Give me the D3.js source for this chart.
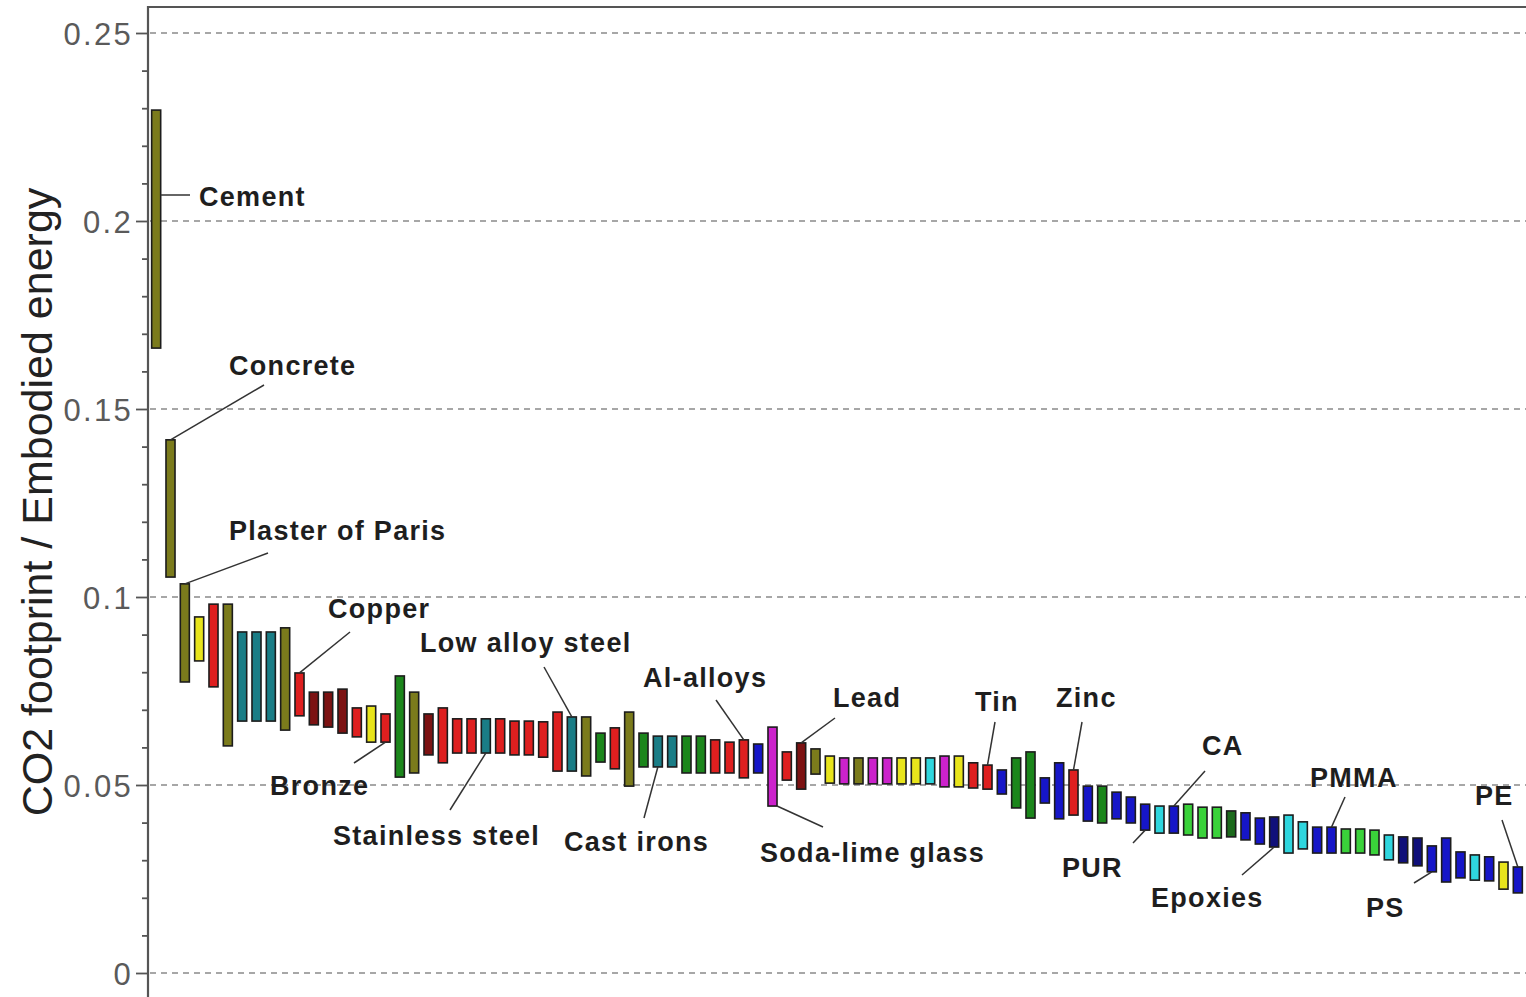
<!DOCTYPE html>
<html><head><meta charset="utf-8">
<script src="https://cdn.jsdelivr.net/npm/d3@7"></script>
<style>body{margin:0;background:#fff;} svg{display:block;}</style>
</head><body>
<svg id="c" width="1526" height="997"></svg>
<script>
// ---------------- DATA ----------------
const categories = [
 "Cement","Concrete","Plaster of Paris","m04","m05","m06","m07","m08","m09","m10",
 "Copper","m12","m13","m14","m15","m16","Bronze","m18","m19","m20",
 "m21","m22","m23","Stainless steel","m25","m26","m27","m28","m29","Low alloy steel",
 "m31","m32","m33","m34","m35","Cast irons","m37","m38","m39","m40",
 "m41","Al-alloys","m43","Soda-lime glass","m45","Lead","m47","m48","m49","m50",
 "m51","m52","m53","m54","m55","m56","m57","m58","Tin","m60",
 "m61","m62","m63","m64","Zinc","m66","m67","m68","m69","PUR",
 "m71","CA","m73","m74","m75","m76","m77","m78","Epoxies","m80",
 "m81","m82","PMMA","m84","m85","m86","m87","m88","m89","PS",
 "m91","m92","m93","m94","m95","PE"
];
const highValues = [
 0.2295,0.1418,0.1035,0.0947,0.0981,0.0981,0.0907,0.0907,0.0907,0.0918,
 0.0798,0.0747,0.0747,0.0755,0.0705,0.0710,0.0689,0.0790,0.0747,0.0689,
 0.0705,0.0676,0.0676,0.0676,0.0676,0.0670,0.0670,0.0668,0.0694,0.0681,
 0.0681,0.0638,0.0652,0.0694,0.0638,0.0630,0.0630,0.0630,0.0630,0.0620,
 0.0614,0.0620,0.0609,0.0654,0.0588,0.0612,0.0596,0.0577,0.0572,0.0572,
 0.0572,0.0572,0.0572,0.0572,0.0572,0.0577,0.0577,0.0559,0.0553,0.0540,
 0.0572,0.0588,0.0519,0.0559,0.0540,0.0497,0.0497,0.0481,0.0468,0.0449,
 0.0444,0.0444,0.0449,0.0441,0.0441,0.0431,0.0426,0.0412,0.0415,0.0420,
 0.0402,0.0388,0.0388,0.0383,0.0383,0.0380,0.0367,0.0362,0.0359,0.0338,
 0.0359,0.0322,0.0314,0.0309,0.0295,0.0282
];
const lowValues = [
 0.1662,0.1053,0.0774,0.0830,0.0761,0.0604,0.0670,0.0670,0.0670,0.0646,
 0.0684,0.0660,0.0654,0.0638,0.0628,0.0614,0.0614,0.0521,0.0532,0.0580,
 0.0559,0.0585,0.0585,0.0585,0.0585,0.0580,0.0580,0.0574,0.0537,0.0537,
 0.0524,0.0561,0.0543,0.0497,0.0548,0.0548,0.0548,0.0532,0.0532,0.0532,
 0.0532,0.0519,0.0532,0.0444,0.0513,0.0489,0.0529,0.0505,0.0503,0.0503,
 0.0503,0.0503,0.0503,0.0503,0.0503,0.0495,0.0495,0.0492,0.0489,0.0476,
 0.0439,0.0412,0.0452,0.0410,0.0420,0.0404,0.0399,0.0410,0.0399,0.0380,
 0.0372,0.0372,0.0367,0.0359,0.0359,0.0362,0.0354,0.0343,0.0335,0.0319,
 0.0330,0.0319,0.0319,0.0319,0.0319,0.0314,0.0301,0.0293,0.0285,0.0269,
 0.0242,0.0253,0.0247,0.0245,0.0223,0.0213
];
const families = [
 "olive","olive","olive","yellow","red","olive","teal","teal","teal","olive",
 "red","darkred","darkred","darkred","red","yellow","red","green","olive","darkred",
 "red","red","red","teal","red","red","red","red","red","teal",
 "olive","green","red","olive","green","teal","teal","green","green","red",
 "red","red","blue","magenta","red","darkred","olive","yellow","magenta","olive",
 "magenta","magenta","yellow","yellow","cyan","magenta","yellow","red","red","blue",
 "green","green","blue","blue","red","blue","green","blue","blue","blue",
 "cyan","blue","lime","lime","lime","darkgreen","blue","blue","navy","cyan",
 "cyan","blue","blue","lime","lime","lime","cyan","navy","navy","blue",
 "blue","blue","cyan","blue","yellow","blue"
];
const majorTicks = [0, 0.05, 0.1, 0.15, 0.2, 0.25];
const majorTickLabels = ["0", "0.05", "0.1", "0.15", "0.2", "0.25"];
const minorTicks = [0.01,0.02,0.03,0.04,0.06,0.07,0.08,0.09,0.11,0.12,0.13,0.14,
                    0.16,0.17,0.18,0.19,0.21,0.22,0.23,0.24];
const labelled = ["Cement","Concrete","Plaster of Paris","Copper","Low alloy steel","Al-alloys",
  "Lead","Tin","Zinc","CA","PMMA","PE","Bronze","Stainless steel","Cast irons",
  "Soda-lime glass","PUR","Epoxies","PS"];
const yTitle = "CO2 footprint / Embodied energy";

// ---------------- STYLE / LAYOUT ----------------
const palette = {
  olive:"#7b7b1c", yellow:"#e8e41c", red:"#de1f1f", darkred:"#7c1212", teal:"#1a7d86",
  green:"#1b861b", blue:"#1616c8", navy:"#10107a", magenta:"#cc22cc", cyan:"#2fd6de",
  lime:"#3ad23a", darkgreen:"#1c6a1c"
};
const labelLayout = {
  "Cement":          {anchor:"rightAt", ay:195, end:[190,195], text:[199,206]},
  "Concrete":        {anchor:"top",    end:[264,385], text:[229,375]},
  "Plaster of Paris":{anchor:"top",    end:[268,553], text:[229,540]},
  "Copper":          {anchor:"top",    end:[350,632], text:[328,618]},
  "Low alloy steel": {anchor:"top",    end:[544,667], text:[420,652]},
  "Al-alloys":       {anchor:"top",    end:[716,700], text:[643,687]},
  "Lead":            {anchor:"top",    end:[835,718], text:[833,707]},
  "Tin":             {anchor:"top",    end:[995,722], text:[975,711]},
  "Zinc":            {anchor:"top",    end:[1082,722], text:[1056,707]},
  "CA":              {anchor:"top",    end:[1205,771], text:[1202,755]},
  "PMMA":            {anchor:"top",    end:[1345,797], text:[1310,787]},
  "PE":              {anchor:"top",    end:[1502,820], text:[1475,805]},
  "Bronze":          {anchor:"bottom", end:[354,763], text:[270,795]},
  "Stainless steel": {anchor:"bottom", end:[450,810], text:[333,845]},
  "Cast irons":      {anchor:"bottom", end:[644,818], text:[564,851]},
  "Soda-lime glass": {anchor:"bottomRight", end:[823,827], text:[760,862]},
  "PUR":             {anchor:"bottom", end:[1133,843], text:[1062,877]},
  "Epoxies":         {anchor:"bottom", end:[1242,875], text:[1151,907]},
  "PS":              {anchor:"bottom", end:[1414,883], text:[1366,917]}
};

const W = 1526, H = 997;
const axisX = 148, frameTop = 7;
const svg = d3.select("#c");
svg.append("rect").attr("width", W).attr("height", H).attr("fill", "#fff");

const y = d3.scaleLinear().domain([0, 0.25]).range([973, 33]);
const x = d3.scaleBand().domain(categories).range([149, 1525]).paddingInner(0.37).paddingOuter(0.185);

// grid lines
svg.append("g").selectAll("line").data(majorTicks).join("line")
  .attr("x1", axisX + 2).attr("x2", W)
  .attr("y1", d => y(d)).attr("y2", d => y(d))
  .attr("stroke", "#8a8a8a").attr("stroke-width", 1.3).attr("stroke-dasharray", "6,5");

// frame top
svg.append("line").attr("x1", axisX).attr("x2", W).attr("y1", frameTop).attr("y2", frameTop)
  .attr("stroke", "#555").attr("stroke-width", 2);

// minor ticks
const minorAxis = d3.axisLeft(y).tickValues(minorTicks).tickSize(6).tickFormat("");
const gMinor = svg.append("g").attr("transform", `translate(${axisX},0)`).call(minorAxis);
gMinor.select(".domain").remove();
gMinor.selectAll("line").attr("stroke", "#555").attr("stroke-width", 1.8);

// major ticks
const majorAxis = d3.axisLeft(y).tickValues(majorTicks).tickSize(12).tickPadding(3)
  .tickFormat((d, i) => majorTickLabels[i]);
const gMajor = svg.append("g").attr("transform", `translate(${axisX},0)`).call(majorAxis);
gMajor.select(".domain").remove();
gMajor.selectAll("line").attr("stroke", "#555").attr("stroke-width", 1.8);
gMajor.selectAll("text").attr("font-family", "Liberation Sans, Arial, sans-serif")
  .attr("font-size", 31).attr("fill", "#5a5a5a").attr("letter-spacing", 2.3).attr("dy", "0.36em");

// left axis line
svg.append("line").attr("x1", axisX).attr("x2", axisX).attr("y1", frameTop - 1).attr("y2", H)
  .attr("stroke", "#555").attr("stroke-width", 2.2);

// y title
svg.append("text").attr("transform", `translate(52,502) rotate(-90)`)
  .attr("text-anchor", "middle").attr("font-family", "Liberation Sans, Arial, sans-serif")
  .attr("font-size", 43).attr("fill", "#222").text(yTitle);

// bars
const data = categories.map((c, i) => ({name: c, hi: highValues[i], lo: lowValues[i], fam: families[i]}));
svg.append("g").selectAll("rect").data(data).join("rect")
  .attr("x", d => x(d.name)).attr("width", x.bandwidth())
  .attr("y", d => y(d.hi)).attr("height", d => y(d.lo) - y(d.hi))
  .attr("fill", d => palette[d.fam]).attr("stroke", "#1c1c1c").attr("stroke-width", 1.6);

// labels + leaders
const gl = svg.append("g");
labelled.forEach(name => {
  const d = data.find(e => e.name === name);
  const L = labelLayout[name];
  let sx, sy;
  const cx = x(name) + x.bandwidth() / 2;
  if (L.anchor === "top") { sx = cx; sy = y(d.hi); }
  else if (L.anchor === "bottom") { sx = cx; sy = y(d.lo); }
  else if (L.anchor === "bottomRight") { sx = x(name) + x.bandwidth(); sy = y(d.lo); }
  else { sx = x(name) + x.bandwidth(); sy = L.ay; }
  gl.append("line").attr("x1", sx).attr("y1", sy).attr("x2", L.end[0]).attr("y2", L.end[1])
    .attr("stroke", "#333").attr("stroke-width", 1.5);
  gl.append("text").attr("x", L.text[0]).attr("y", L.text[1])
    .attr("font-family", "Liberation Sans, Arial, sans-serif").attr("font-weight", "bold")
    .attr("font-size", 27).attr("letter-spacing", 1.3).attr("fill", "#1e1e1e").text(name);
});
</script>
</body></html>
